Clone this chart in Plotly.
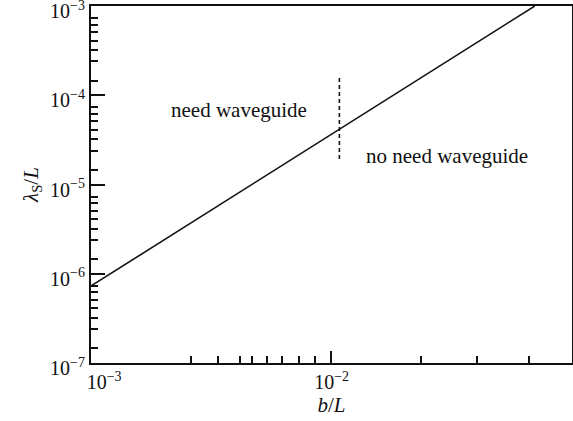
import numpy as np
import plotly.graph_objects as go

# boundary curve: lambda_S / L versus b / L
b_over_L = [1.0e-3, 7.06e-2]
lam_over_L = [7.3e-7, 1.0e-3]

# dashed marker separating the two regimes
dash_x = [1.083e-2, 1.083e-2]
dash_y = [1.56e-4, 1.83e-5]

# axis tick values and labels
x_major = [1e-3, 1e-2]
x_major_text = ["10<sup>\u22123</sup>", "10<sup>\u22122</sup>" + "\u00a0" * 5]
x_minor = [2.60e-3, 3.39e-3, 4.18e-3, 4.70e-3, 5.40e-3, 6.27e-3, 7.38e-3, 8.58e-3,
           2.38e-2, 4.05e-2, 6.70e-2]
y_major = [1e-7, 1e-6, 1e-5, 1e-4, 1e-3]
y_major_text = ["10<sup>\u22127</sup>", "10<sup>\u22126</sup>", "10<sup>\u22125</sup>",
                "10<sup>\u22124</sup>", "10<sup>\u22123</sup>"]
y_minor_mult = [1.46, 2.40, 3.20, 4.10, 5.09, 6.17, 7.33]
y_minor = [m * d for d in [1e-7, 1e-6, 1e-5, 1e-4] for m in y_minor_mult]

region_labels = ["need waveguide", "no need waveguide"]

INK = "#111111"
FONT = "Liberation Serif, Times New Roman, DejaVu Serif, serif"

fig = go.Figure()
fig.add_trace(go.Scatter(x=b_over_L, y=lam_over_L, mode="lines",
                         line=dict(color=INK, width=1.6), showlegend=False,
                         hoverinfo="skip"))
fig.add_trace(go.Scatter(x=dash_x, y=dash_y, mode="lines",
                         line=dict(color=INK, width=1.6, dash="4px,3px"),
                         showlegend=False, hoverinfo="skip"))

fig.add_annotation(x=np.log10(4.15e-3), y=np.log10(6.9e-5), text=region_labels[0],
                   showarrow=False, font=dict(family=FONT, size=21, color=INK))
fig.add_annotation(x=np.log10(3.05e-2), y=np.log10(2.1e-5), text=region_labels[1],
                   showarrow=False, font=dict(family=FONT, size=21, color=INK))

axis_common = dict(type="log", showgrid=False, zeroline=False, showline=True,
                   linecolor=INK, linewidth=2, mirror=True, ticks="inside",
                   tickcolor=INK, tickwidth=1.6, tickmode="array",
                   ticklabeloverflow="allow", automargin=False,
                   tickfont=dict(family=FONT, size=20, color=INK))

fig.update_xaxes(**axis_common, range=[-3.0005, -0.996], tickvals=x_major,
                 ticktext=x_major_text, ticklen=12, ticklabelshift=13,
                 minor=dict(tickmode="array", tickvals=x_minor, ticks="inside",
                            ticklen=7, tickwidth=1.5, tickcolor=INK),
                 title=dict(text="<i>b</i>/<i>L</i>", standoff=4,
                            font=dict(family=FONT, size=21, color=INK)))
fig.update_yaxes(**axis_common, range=[-7.0005, -2.9995], tickvals=y_major,
                 ticktext=y_major_text, ticklen=14, ticklabelshift=5,
                 minor=dict(tickmode="array", tickvals=y_minor, ticks="inside",
                            ticklen=7, tickwidth=1.5, tickcolor=INK),
                 title=dict(text="<i>\u03bb</i><sub>S</sub>/<i>L</i>", standoff=6,
                            font=dict(family=FONT, size=21, color=INK)))

fig.update_layout(width=573, height=421, margin=dict(l=91, r=1, t=6, b=58),
                  paper_bgcolor="white", plot_bgcolor="white",
                  font=dict(family=FONT, color=INK))

fig.write_html("out.html")
